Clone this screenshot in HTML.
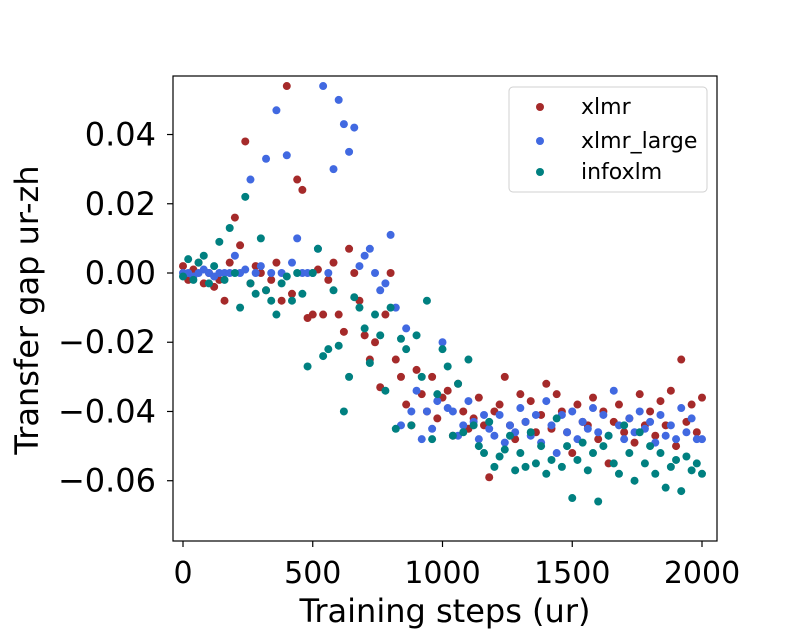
<!DOCTYPE html>
<html><head><meta charset="utf-8"><style>
body{margin:0;background:#fff}
svg text{font-family:"DejaVu Sans","Liberation Sans",sans-serif}
</style></head><body>
<svg id="chart" width="797" height="638" xmlns="http://www.w3.org/2000/svg">
<rect width="797" height="638" fill="#fff"/>
<g id="marks"></g>
<g id="axes"></g>
</svg>
<script>
const xStart = 0, xStep = 20;
const xlmr = [0.002,-0.002,0.001,0.003,-0.003,0.000,-0.004,-0.002,-0.008,0.003,
0.016,0.008,0.038,-0.003,0.002,0.000,-0.005,-0.002,0.003,-0.008,
0.054,-0.006,0.027,0.024,-0.013,-0.012,0.001,-0.012,-0.002,0.003,
-0.012,-0.017,0.007,0.000,-0.008,-0.018,-0.025,-0.020,-0.033,-0.012,
0.000,-0.025,-0.030,-0.038,-0.044,-0.028,-0.035,-0.040,-0.030,-0.042,
-0.036,-0.034,-0.047,-0.032,-0.040,-0.045,-0.042,-0.036,-0.044,-0.059,
-0.040,-0.038,-0.030,-0.044,-0.048,-0.035,-0.043,-0.037,-0.046,-0.041,
-0.032,-0.045,-0.035,-0.040,-0.046,-0.052,-0.038,-0.043,-0.044,-0.036,
-0.048,-0.040,-0.055,-0.043,-0.038,-0.046,-0.042,-0.049,-0.035,-0.044,
-0.040,-0.047,-0.037,-0.044,-0.034,-0.050,-0.025,-0.043,-0.038,-0.046,-0.036];
const xlmrLarge = [0.000,0.000,-0.001,0.000,0.001,0.000,-0.001,0.000,0.000,0.000,
0.005,0.000,0.001,0.027,0.000,0.002,0.033,0.000,0.047,0.000,
0.034,0.003,0.010,0.000,0.000,0.000,0.007,0.054,0.000,0.030,
0.050,0.043,0.035,0.042,0.002,0.005,0.007,0.000,-0.005,-0.003,
0.011,-0.010,-0.044,-0.016,-0.040,-0.034,-0.048,-0.040,-0.045,-0.037,
-0.020,-0.039,-0.040,-0.047,-0.044,-0.037,-0.043,-0.048,-0.041,-0.045,
-0.047,-0.041,-0.049,-0.044,-0.046,-0.039,-0.043,-0.047,-0.041,-0.049,
-0.037,-0.044,-0.052,-0.041,-0.046,-0.040,-0.048,-0.043,-0.045,-0.039,
-0.046,-0.041,-0.047,-0.034,-0.044,-0.048,-0.042,-0.046,-0.040,-0.045,
-0.043,-0.049,-0.041,-0.047,-0.044,-0.048,-0.039,-0.046,-0.042,-0.048,-0.048];
const infoxlm = [-0.001,0.004,-0.002,0.003,0.005,-0.003,0.002,0.009,-0.002,0.013,
0.000,-0.010,0.022,-0.003,-0.006,0.010,-0.005,-0.008,-0.012,-0.003,
-0.001,-0.008,0.000,-0.006,-0.027,0.000,0.007,-0.024,-0.022,-0.005,
-0.021,-0.040,-0.030,-0.007,-0.010,-0.016,-0.026,-0.012,-0.018,-0.034,
-0.010,-0.045,-0.019,-0.022,-0.044,-0.018,-0.030,-0.008,-0.048,-0.035,
-0.022,-0.027,-0.047,-0.032,-0.046,-0.025,-0.044,-0.050,-0.052,-0.043,
-0.056,-0.053,-0.051,-0.047,-0.057,-0.052,-0.056,-0.046,-0.055,-0.050,
-0.058,-0.054,-0.042,-0.056,-0.050,-0.065,-0.054,-0.049,-0.057,-0.052,
-0.066,-0.050,-0.047,-0.055,-0.058,-0.044,-0.052,-0.060,-0.046,-0.055,
-0.050,-0.058,-0.052,-0.062,-0.056,-0.054,-0.063,-0.053,-0.057,-0.055,-0.058];
const seriesNames = ["xlmr","xlmr_large","infoxlm"];
const seriesColors = ["#a52a2a","#4169e1","#008080"];
const xTicks = [0,500,1000,1500,2000];
const yTicks = [0.04,0.02,0.00,-0.02,-0.04,-0.06];
const yTickLabels = ["0.04","0.02","0.00","\u22120.02","\u22120.04","\u22120.06"];

const L=173,R=717,T=76,B=541;
const xScale = v => 183 + v*0.2595;
const yScale = v => 273 - v*3462;
const NS="http://www.w3.org/2000/svg";
const marks=document.getElementById('marks'), axes=document.getElementById('axes');
function mk(tag,attrs,parent){const e=document.createElementNS(NS,tag);for(const k in attrs)e.setAttribute(k,attrs[k]);parent.appendChild(e);return e;}

[xlmr,xlmrLarge,infoxlm].forEach((arr,si)=>{
  const g=mk('g',{},marks);
  
  
  arr.forEach((v,i)=>{
    const c=mk('circle',{cx:xScale(xStart+i*xStep),cy:yScale(v),r:4,fill:seriesColors[si]},g);
    
    
  });
});

const frame=mk('rect',{x:L,y:T,width:R-L,height:B-T,fill:'none',stroke:'#000','stroke-width':1.2},axes);


xTicks.forEach(t=>{
  const x=xScale(t);
  mk('line',{x1:x,x2:x,y1:B,y2:B+6,stroke:'#000','stroke-width':1.2},axes);
  const tx=mk('text',{x:x,y:583,'text-anchor':'middle','font-size':30},axes);
  tx.textContent=t;
  
  
});
yTicks.forEach((t,i)=>{
  const y=yScale(t);
  mk('line',{x1:L-6,x2:L,y1:y,y2:y,stroke:'#000','stroke-width':1.2},axes);
  const tx=mk('text',{x:156,y:y+11,'text-anchor':'end','font-size':32},axes);
  tx.textContent=yTickLabels[i];
  
  
});
const xt=mk('text',{x:445,y:622,'text-anchor':'middle','font-size':32},axes);
xt.textContent='Training steps (ur)';


const yt=mk('text',{x:0,y:0,'text-anchor':'middle','font-size':32,transform:'translate(38,310) rotate(-90)'},axes);
yt.textContent='Transfer gap ur-zh';



const lg=mk('g',{},axes);


mk('rect',{x:509,y:87,width:198,height:105,rx:4,fill:'#fff','fill-opacity':0.8,stroke:'#d0d0d0'},lg);
const legendY=[107,141,172];
seriesNames.forEach((n,i)=>{
  const y=legendY[i];
  const e=mk('g',{},lg);
  
  
  mk('circle',{cx:540,cy:y,r:4,fill:seriesColors[i]},e);
  const t=mk('text',{x:581,y:y+7,'font-size':22},e);
  t.textContent=n;
});
</script>
</body></html>
